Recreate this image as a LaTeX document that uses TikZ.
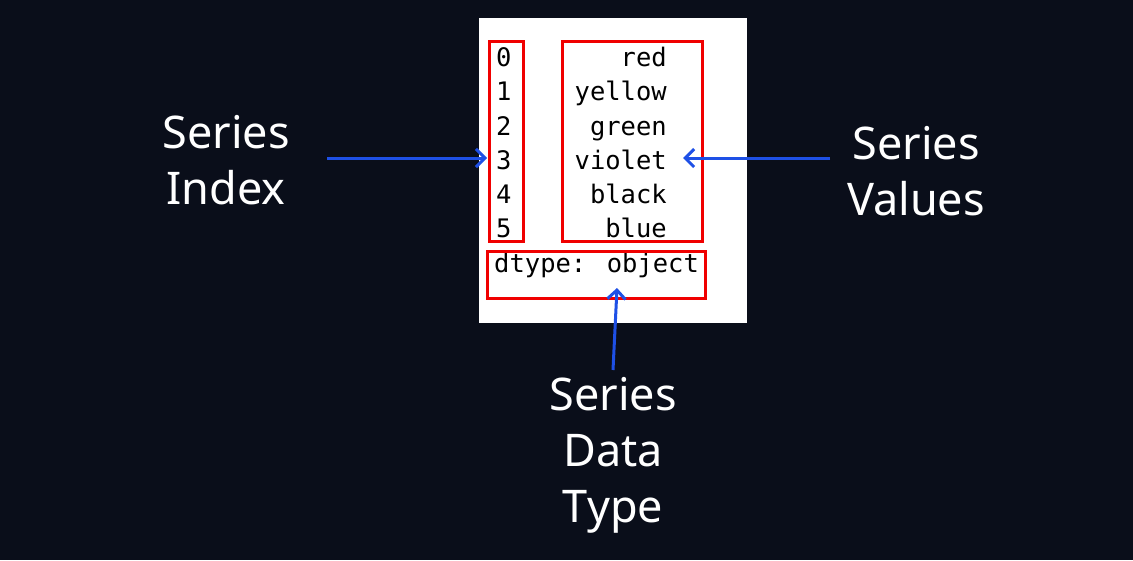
\documentclass[tikz,border=0pt]{standalone}
\usepackage{fontspec}
\setmainfont{Noto Sans}
\newfontfamily\codefont{DejaVu Sans Mono}
\usetikzlibrary{arrows.meta}
\definecolor{bg}{HTML}{0A0E1A}
\definecolor{redbox}{HTML}{F00000}
\definecolor{bluearr}{HTML}{1E50E6}
\tikzset{
  label text/.style={text=white, font=\fontsize{45}{56}\selectfont, align=center, inner sep=0pt},
  code/.style={font=\codefont\fontsize{25.5}{30}\selectfont, text=black, inner sep=0pt, anchor=base},
  redframe/.style={draw=redbox, line width=3pt, inner sep=0pt},
  pointer/.style={draw=bluearr, line width=3pt, -{Straight Barb[length=9pt,width=18pt,line width=3pt]}}
}
\begin{document}
\begin{tikzpicture}[x=1pt,y=-1pt]
\fill[bg] (0,0) rectangle (1133,560);
\useasboundingbox (0,0) rectangle (1133,560);
\fill[white] (479,18) rectangle (747,323);
% index and values
\foreach \i/\v/\y in {0/red/66,1/yellow/100,2/green/135,3/violet/169,4/black/203,5/blue/237}{
  \node[code, anchor=base west] (idx\i) at (496,\y) {\i};
  \node[code, anchor=base east] (val\i) at (667,\y) {\v};
}
\node[code, anchor=base west] (dtype) at (494,272) {dtype: object};
% red frames
\node[redframe, minimum width=34pt, minimum height=200pt] (idxbox) at (506,141) {};
\node[redframe, minimum width=140pt, minimum height=200pt] (valbox) at (632,141) {};
\node[redframe, minimum width=218pt, minimum height=47pt] (dtbox) at (596,274.5) {};
% labels
\node[label text] (lidx) at (226,160) {Series\\Index};
\node[label text] (lval) at (916,171) {Series\\Values};
\node[label text] (ldt) at (613,455) {Series\\Data\\Type};
% arrows
\coordinate (a1s) at (327,158);
\coordinate (a1e) at (487,158);
\coordinate (a2s) at (830,158);
\coordinate (a2e) at (683,158);
\coordinate (a3s) at (613,370);
\coordinate (a3e) at (617,288);
\draw[pointer] (a1s) -- (a1e);
\draw[pointer] (a2s) -- (a2e);
\draw[pointer] (a3s) -- (a3e);
\end{tikzpicture}
\end{document}
